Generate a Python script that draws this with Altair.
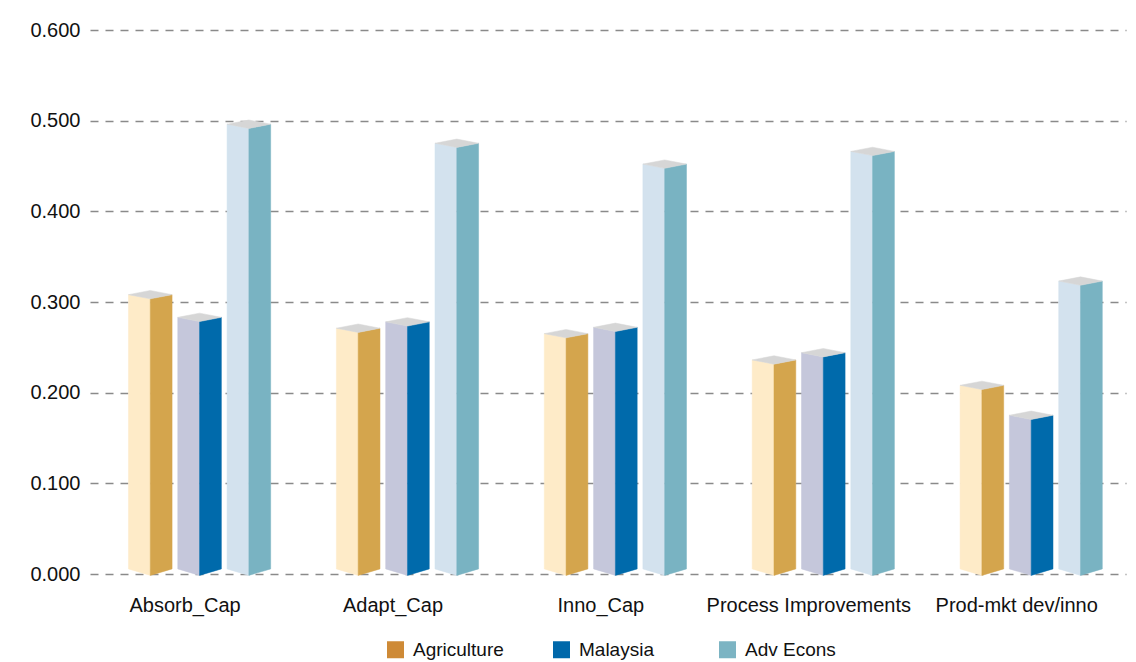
import json

import altair as alt
import pandas as pd

# ---- data -----------------------------------------------------------------
CATEGORIES = ["Absorb_Cap", "Adapt_Cap", "Inno_Cap", "Process Improvements", "Prod-mkt dev/inno"]
SERIES = ["Agriculture", "Malaysia", "Adv Econs"]
AGRICULTURE = [0.305, 0.268, 0.262, 0.233, 0.205]
MALAYSIA = [0.280, 0.275, 0.269, 0.241, 0.172]
ADV_ECONS = [0.493, 0.472, 0.449, 0.463, 0.320]
Y_TICKS = [0.0, 0.1, 0.2, 0.3, 0.4, 0.5, 0.6]

# ---- styling --------------------------------------------------------------
FRONT_COLORS = ["#FEEBC8", "#C5C7DB", "#D3E2EE"]   # lit face of each prism
SIDE_COLORS = ["#D4A54D", "#006AAB", "#79B3C2"]    # shaded face of each prism
CAP_COLOR = "#D6D6D6"
LEGEND_COLORS = ["#CE8A36", "#0068AA", "#7CB4C3"]
FONT = "Liberation Sans"
TEXT = "#111111"

W, H = 1036, 544
Y_MAX = 0.6
PX = Y_MAX / H                       # value units per pixel
X_DOMAIN = [-0.527, 4.456]           # category index space
UNIT = W / (X_DOMAIN[1] - X_DOMAIN[0])

PITCH = 49.3 / UNIT                  # distance between prisms in a group
HALF = 21.8 / UNIT                   # half prism width
TOP_SLANT = 4.2 * PX                 # perspective rise of the top edges
BOT_SLANT = 6.5 * PX                 # perspective rise of the bottom edges
DROP = 1.4 * PX                      # front edge sits just below the floor

# ---- build prism faces as small polygons ------------------------------------
rows = []
series_values = [AGRICULTURE, MALAYSIA, ADV_ECONS]
for i, _cat in enumerate(CATEGORIES):
    for j, vals in enumerate(series_values):
        v = vals[i]
        xc = i + (j - 1) * PITCH
        xl, xr = xc - HALF, xc + HALF
        top = v - DROP
        base = -DROP
        faces = {
            "front": (FRONT_COLORS[j], [(xl, top + TOP_SLANT, base + BOT_SLANT),
                                        (xc, top, base)]),
            "side": (SIDE_COLORS[j], [(xc, top, base),
                                      (xr, top + TOP_SLANT, base + BOT_SLANT)]),
            "cap": (CAP_COLOR, [(xl, top + TOP_SLANT, top + TOP_SLANT),
                                (xc, top + 2 * TOP_SLANT, top),
                                (xr, top + TOP_SLANT, top + TOP_SLANT)]),
        }
        for name, (color, pts) in faces.items():
            for x, y, y2 in pts:
                rows.append({"poly": f"{i}-{j}-{name}", "x": x,
                             "y": y, "y2": y2, "fill": color})

faces_df = pd.DataFrame(rows)

label_expr = f"{json.dumps(CATEGORIES)}[round(datum.value)]"

prisms = alt.Chart(faces_df).mark_area(strokeWidth=0.5, interpolate="linear").encode(
    x=alt.X(
        "x:Q",
        scale=alt.Scale(domain=X_DOMAIN, nice=False, zero=False),
        axis=alt.Axis(
            values=list(range(len(CATEGORIES))),
            labelExpr=label_expr,
            grid=False, domain=False, ticks=False, tickSize=0,
            labelFont=FONT, labelFontSize=20, labelColor=TEXT,
            labelPadding=21, labelOffset=-15, labelBaseline="top",
            labelFlush=False, labelOverlap=False, labelLimit=400, title=None,
        ),
    ),
    y=alt.Y(
        "y:Q",
        scale=alt.Scale(domain=[0, Y_MAX], nice=False, zero=True),
        axis=alt.Axis(
            values=Y_TICKS, format=".3f",
            grid=True, gridDash=[8, 7], gridColor="#8a8a8a", gridWidth=1.5,
            domain=False, ticks=False, tickSize=0,
            labelFont=FONT, labelFontSize=20, labelColor=TEXT,
            labelPadding=10, title=None,
        ),
    ),
    y2="y2:Q",
    detail="poly:N",
    fill=alt.Fill("fill:N", scale=None),
    stroke=alt.Stroke("fill:N", scale=None),
)

# legend carrier: invisible marks that only drive the colour legend
legend_layer = alt.Chart(pd.DataFrame({"series": SERIES})).mark_square(size=0).encode(
    x=alt.value(0),
    y=alt.value(0),
    color=alt.Color(
        "series:N",
        scale=alt.Scale(domain=SERIES, range=LEGEND_COLORS),
        legend=alt.Legend(
            title=None, orient="none", legendX=296, legendY=610,
            direction="horizontal", columns=3, gridAlign="all", columnPadding=48,
            symbolType="square", symbolSize=289, symbolStrokeWidth=0, symbolOpacity=1,
            labelFont=FONT, labelFontSize=19, labelColor=TEXT, labelOffset=8,
        ),
    ),
)

chart = (
    alt.layer(prisms, legend_layer)
    .properties(
        width=W, height=H,
        padding={"left": 90, "top": 30, "right": 10, "bottom": 88},
        autosize="none",
        background="white",
    )
    .configure_view(stroke=None)
)

chart.save("out.html", embed_options={"renderer": "svg", "actions": False})
